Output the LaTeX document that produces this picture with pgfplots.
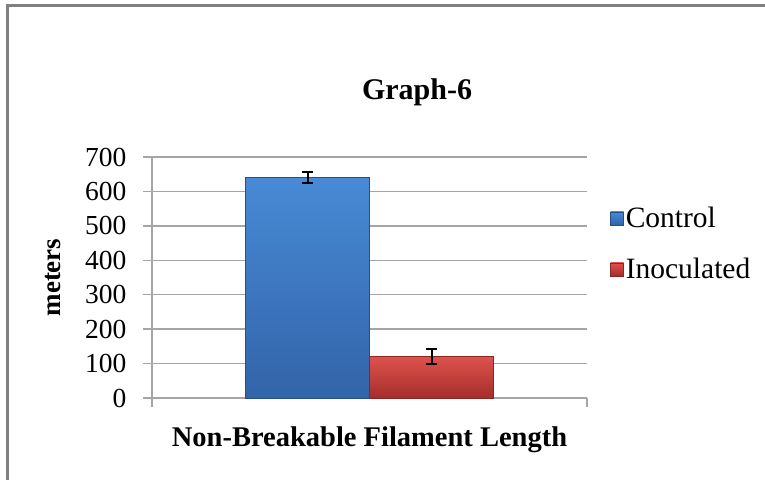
\documentclass[border=0pt]{standalone}
\usepackage{pgfplots}
\pgfplotsset{compat=1.18}
\usepackage{fontspec}
\setmainfont{Liberation Serif}

\definecolor{gridgray}{RGB}{165,165,165}
\definecolor{framegray}{RGB}{128,128,128}
\definecolor{ctrltop}{RGB}{72,138,214}
\definecolor{ctrlbot}{RGB}{50,100,168}
\definecolor{ctrledge}{RGB}{38,78,138}
\definecolor{inoctop}{RGB}{222,82,76}
\definecolor{inocbot}{RGB}{165,46,44}
\definecolor{inocedge}{RGB}{140,38,36}

\pgfplotsset{
  errstyle/.style={
    error bars/y dir=both,
    error bars/y explicit,
    error bars/error bar style={black, line width=2bp},
    error bars/error mark options={black, rotate=90, mark size=5.5bp, line width=2bp},
  },
}

\begin{document}
\begin{tikzpicture}
\useasboundingbox (0bp,0bp) rectangle (765bp,480bp);
\fill[white] (0bp,0bp) rectangle (765bp,480bp);
% outer chart frame (left and top edges visible)
\draw[framegray, line width=3bp] (7.5bp,-5bp) -- (7.5bp,474.5bp) -- (775bp,474.5bp);

% chart title
\node[font=\fontsize{30bp}{34bp}\selectfont\bfseries] at (417bp,388bp) {Graph-6};

\begin{axis}[
  at={(152bp,82bp)}, anchor=south west,
  scale only axis,
  width=435bp, height=241bp,
  xmin=-0.5, xmax=0.5,
  ymin=0, ymax=700,
  ytick={0,100,...,700},
  xtick={-0.5,0.5},
  xticklabels={},
  axis x line=bottom, axis y line=left,
  axis line style={gridgray, line width=1.3bp, -},
  tick style={gridgray, line width=1.3bp},
  tick align=outside,
  major tick length=9bp,
  ymajorgrids,
  grid style={gridgray, line width=1.3bp},
  ybar=0pt, bar width=124bp,
  /pgf/number format/assume math mode=true,
  yticklabel style={font=\fontsize{27.5bp}{30bp}\selectfont, xshift=-13bp},
  ylabel={meters},
  every axis y label/.style={at={(rel axis cs:0,0.5)}, xshift=-99bp, rotate=90, anchor=center,
    font=\fontsize{27bp}{30bp}\selectfont\bfseries},
  xlabel={Non-Breakable Filament Length},
  every axis x label/.style={at={(rel axis cs:0.5,0)}, yshift=-42bp, anchor=center,
    font=\fontsize{28.5bp}{31bp}\selectfont\bfseries},
  legend style={draw=none, fill=none,
    at={(rel axis cs:1,0.80)}, xshift=23bp, anchor=north west,
    font=\fontsize{29.5bp}{32bp}\selectfont,
    row sep=25bp, inner sep=0pt,
    /tikz/every even column/.append style={column sep=5bp}},
  legend cell align=left,
  legend image code/.code={%
    \draw[#1, line width=0.6bp] (0bp,-6.5bp) rectangle (13bp,6.5bp);},
]
\addplot[draw=ctrledge, top color=ctrltop, bottom color=ctrlbot, line width=1bp, errstyle]
  coordinates {(0,640) +- (0,16)};
\addplot[draw=inocedge, top color=inoctop, bottom color=inocbot, line width=1bp, errstyle]
  coordinates {(0,120) +- (0,21)};
\legend{Control, Inoculated}
\end{axis}
\end{tikzpicture}
\end{document}
